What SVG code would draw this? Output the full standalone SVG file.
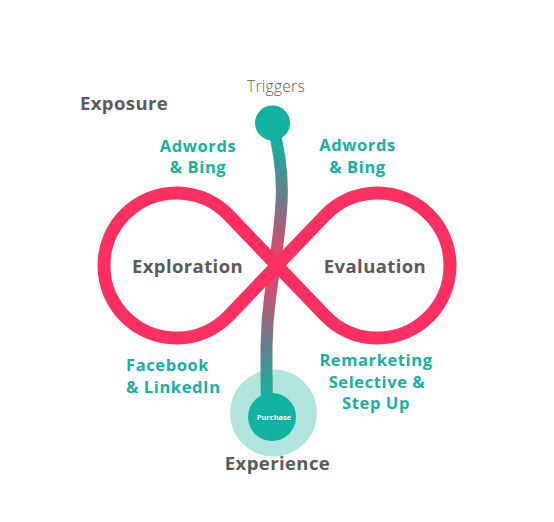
<svg xmlns="http://www.w3.org/2000/svg" width="554" height="522" viewBox="0 0 554 522">
  <defs>
    <linearGradient id="stemGrad" gradientUnits="userSpaceOnUse" x1="0" y1="140" x2="0" y2="395">
      <stop offset="0" stop-color="#13b1a0"/>
      <stop offset="0.22" stop-color="#6a7d8c"/>
      <stop offset="0.42" stop-color="#d24d70"/>
      <stop offset="0.58" stop-color="#cc4f70"/>
      <stop offset="0.78" stop-color="#6f7a8a"/>
      <stop offset="1" stop-color="#13b1a0"/>
    </linearGradient>
    <style>
      .head { font-family: "Open Sans", "Liberation Sans", sans-serif; font-weight: 700; fill: #5b5b5b; font-size: 18.5px; letter-spacing: 0.4px; }
      .ch { font-family: "Open Sans", "Liberation Sans", sans-serif; font-weight: 700; fill: #17b1a0; font-size: 16.5px; letter-spacing: 0.6px; }
      .thin { font-family: "Open Sans", "Liberation Sans", sans-serif; font-weight: 300; fill: #5b5b5b; font-size: 15.5px; letter-spacing: 0.3px; }
      .small { font-family: "Open Sans", "Liberation Sans", sans-serif; font-weight: 700; fill: #ffffff; font-size: 7.5px; }
      .mid { text-anchor: middle; }
    </style>
  </defs>
  <rect width="554" height="522" fill="#ffffff"/>

  <g id="purchase-halo">
    <circle cx="273.5" cy="413" r="43.5" fill="#b2e4de"/>
  </g>

  <g id="connectors">
    <path d="M 272 123 C 279 148 284 178 281 210 C 279 240 274 268 270 298 C 266 328 266 350 267 410" fill="none" stroke="url(#stemGrad)" stroke-width="12" stroke-linecap="round"/>
  </g>

  <g id="loop">
    <path d="M 277 265.5 L 228.8 215.3 A 72.5 72.5 0 1 0 228.8 315.7 L 277 265.5 L 325.2 215.3 A 72.5 72.5 0 1 1 325.2 315.7 Z" fill="none" stroke="#fe3062" stroke-width="13" stroke-linejoin="round"/>
  </g>

  <g id="triggers">
    <circle cx="272.5" cy="123" r="17.5" fill="#13b1a0"/>
    <text class="thin mid" x="276" y="92">Triggers</text>
  </g>

  <g id="purchase">
    <circle cx="272" cy="417" r="24" fill="#13b1a0"/>
    <text class="small mid" x="274" y="419.5">Purchase</text>
  </g>

  <g id="exposure">
    <text class="head" x="80" y="110">Exposure</text>
  </g>
  <g id="exploration">
    <text class="head mid" x="187.5" y="273">Exploration</text>
  </g>
  <g id="evaluation">
    <text class="head mid" x="375" y="273">Evaluation</text>
  </g>
  <g id="experience">
    <text class="head mid" x="277.5" y="470">Experience</text>
  </g>

  <g id="adwords-left">
    <text class="ch mid" x="198" y="152">Adwords</text>
    <text class="ch mid" x="198" y="173">&amp; Bing</text>
  </g>
  <g id="adwords-right">
    <text class="ch mid" x="357.5" y="151">Adwords</text>
    <text class="ch mid" x="357.5" y="173">&amp; Bing</text>
  </g>
  <g id="facebook">
    <text class="ch" x="126" y="371">Facebook</text>
    <text class="ch" x="126" y="393">&amp; LinkedIn</text>
  </g>
  <g id="remarketing">
    <text class="ch mid" x="376" y="366">Remarketing</text>
    <text class="ch mid" x="377" y="387.5">Selective &amp;</text>
    <text class="ch mid" x="376" y="409">Step Up</text>
  </g>
</svg>
